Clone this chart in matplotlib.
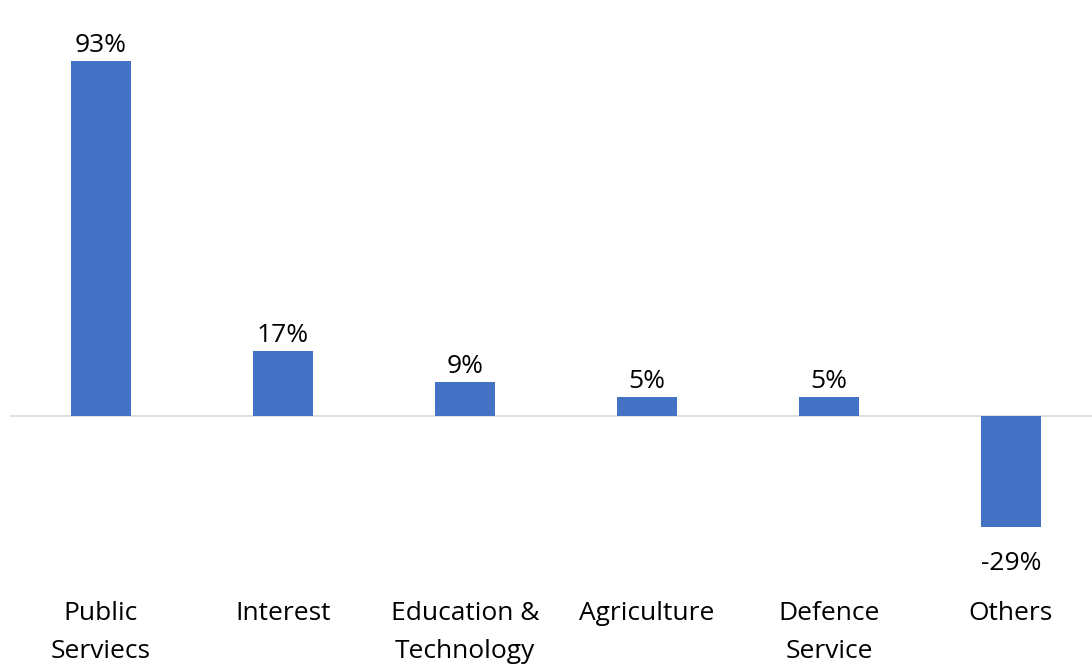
import matplotlib.pyplot as plt

# data
categories = ["Public\nServiecs", "Interest", "Education &\nTechnology",
              "Agriculture", "Defence\nService", "Others"]
values = [93, 17, 9, 5, 5, -29]
labels = ["93%", "17%", "9%", "5%", "5%", "-29%"]

plt.rcParams['font.family'] = ['Open Sans', 'DejaVu Sans']

fig = plt.figure(figsize=(10.92, 6.66), dpi=100)
ax = fig.add_axes([10 / 1092, 97 / 666, 1092 / 1092, 535 / 666])

x = range(len(categories))
ax.bar(x, values, width=0.335, color="#4472C4", zorder=2)
ax.axhline(0, color="#D9D9D9", linewidth=1.2, zorder=1)

for i, (v, lab) in enumerate(zip(values, labels)):
    if v >= 0:
        ax.annotate(lab, (i, v), xytext=(0, 2), textcoords="offset points",
                    ha="center", va="bottom", fontsize=19)
    else:
        ax.annotate(lab, (i, v), xytext=(0, -17), textcoords="offset points",
                    ha="center", va="top", fontsize=19)

ax.set_xlim(-0.5, 5.5)
ax.set_ylim(-40, 100)
ax.set_xticks(list(x))
ax.set_xticklabels(categories, fontsize=19, linespacing=1.68)
ax.tick_params(axis="x", length=0, pad=23)
ax.set_yticks([])
for s in ax.spines.values():
    s.set_visible(False)

fig.savefig("out.png", dpi=100)
